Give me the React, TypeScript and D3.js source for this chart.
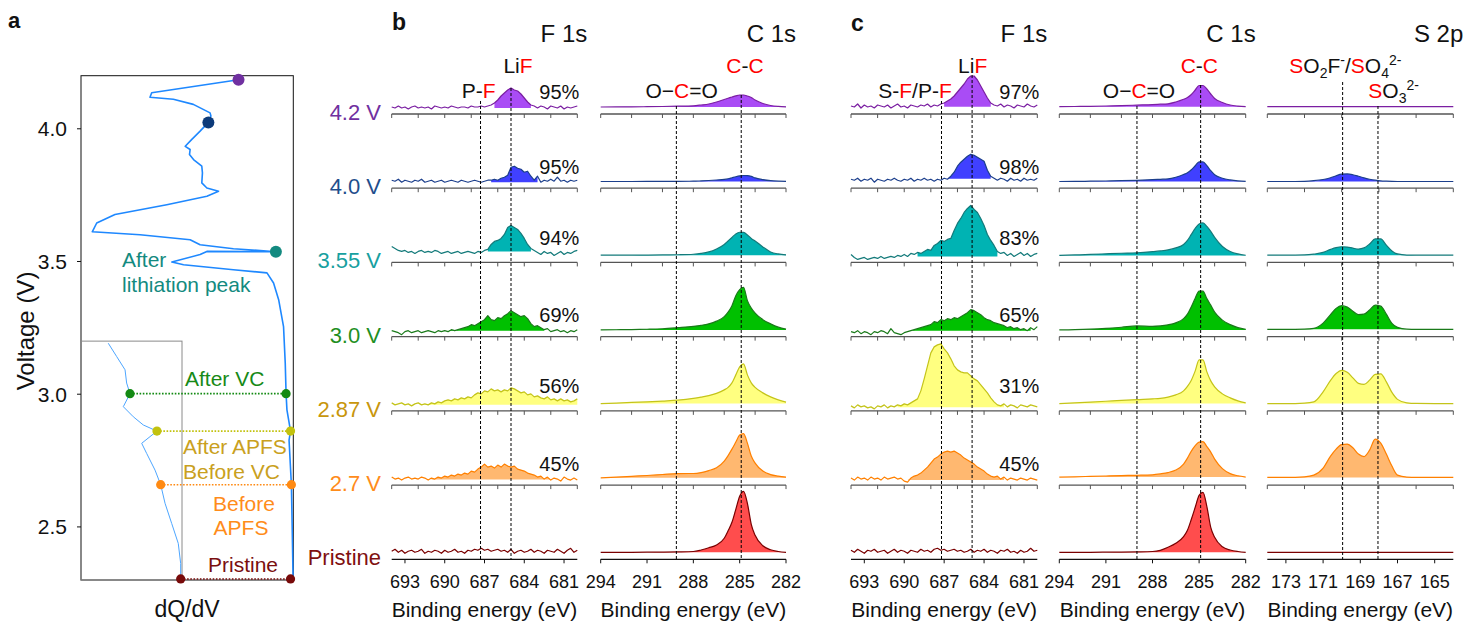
import React from 'react';
import * as d3 from 'd3';

const FONT = "Arial, 'Liberation Sans', Helvetica, sans-serif";
const W = 1467;
const H = 624;

// ---------------- Panel a data ----------------
const VOLT_TICKS = [2.5, 3.0, 3.5, 4.0];
// [voltage, dQ/dV (a.u.)]
const DQDV_MAIN: [number, number][] = [
  [4.185, 0.742], [4.136, 0.333], [4.119, 0.325], [4.111, 0.435], [4.092, 0.529],
  [4.060, 0.608], [4.048, 0.612], [4.024, 0.600], [3.991, 0.561], [3.960, 0.522],
  [3.934, 0.491], [3.922, 0.514], [3.903, 0.511], [3.884, 0.530], [3.859, 0.569],
  [3.834, 0.572], [3.796, 0.569], [3.777, 0.593], [3.765, 0.648], [3.746, 0.593],
  [3.714, 0.404], [3.677, 0.160], [3.645, 0.074], [3.612, 0.053], [3.601, 0.278],
  [3.582, 0.514], [3.563, 0.561], [3.548, 0.718], [3.537, 0.918], [3.538, 0.593],
  [3.526, 0.561], [3.498, 0.428], [3.488, 0.483], [3.469, 0.718], [3.457, 0.876],
  [3.419, 0.907], [3.356, 0.931], [3.255, 0.954], [3.118, 0.962], [3.002, 0.966],
  [2.941, 0.970], [2.861, 0.987], [2.827, 0.980], [2.659, 0.991], [2.488, 0.995],
  [2.304, 0.999],
];
const DQDV_INSET: [number, number][] = [
  [3.192, 0.270], [3.142, 0.353], [3.092, 0.436], [3.042, 0.452], [3.002, 0.485],
  [2.953, 0.419], [2.915, 0.518], [2.884, 0.617], [2.861, 0.752], [2.815, 0.601],
  [2.777, 0.650], [2.714, 0.733], [2.659, 0.789], [2.589, 0.832], [2.513, 0.898],
  [2.438, 0.963], [2.362, 0.987], [2.304, 0.987],
];
const MARK_V = [4.185, 4.024, 3.537, 3.002, 2.861, 2.659, 2.304];
const MARK_MAIN = [0.742, 0.600, 0.918, 0.966, 0.987, 0.991, 0.987];
const MARK_INSET: (number | null)[] = [null, null, null, 0.485, 0.752, 0.789, 0.987];
const MARK_COLORS = ['#7030a0', '#0d3b7a', '#138a80', '#138a13', '#c2c20e', '#ff8a12', '#780a0a'];

// ---------------- XPS data ----------------
const STATES = ['4.2 V', '4.0 V', '3.55 V', '3.0 V', '2.87 V', '2.7 V', 'Pristine'];
const STATE_COLORS = ['#7030a0', '#1f4e8c', '#17a0a0', '#1f8f1f', '#c8960c', '#ff8c1a', '#7f1010'];
const LINE_COLORS = ['#7b1fa2', '#1c3f8c', '#137a7a', '#1a7a1a', '#c4c41a', '#ff8000', '#7a0000'];
const FILL_COLORS = ['#a94cf5', '#4040ff', '#00b3b3', '#00c000', '#ffff80', '#ffb870', '#ff4d4d'];

const PCT_B = ['95%', '95%', '94%', '69%', '56%', '45%'];
const PCT_C = ['97%', '98%', '83%', '65%', '31%', '45%'];

const F1S_E = d3.range(0, 57).map((i) => 694 - i * 0.25);
const C1S_E = [294, 293, 292, 291, 290, 289, 288, 287.5, 287, 286.5, 286, 285.75, 285.5, 285.25, 285, 284.75, 284.5, 284.25, 284, 283.5, 283, 282.5, 282];
const S2P_E = [174, 173, 172, 171.5, 171, 170.6, 170.3, 170, 169.7, 169.4, 169.1, 168.8, 168.5, 168.2, 167.9, 167.6, 167.3, 167, 166.5, 166, 165, 164];

const F1S_TICKS_MINOR = [694, 692, 690, 688, 686, 684, 682, 680];
const F1S_TICKS_MAJOR = [693, 690, 687, 684, 681];
const C1S_TICKS_MINOR = [294, 292, 290, 288, 286, 284, 282];
const C1S_TICKS_MAJOR = [294, 291, 288, 285, 282];
const S2P_TICKS_MINOR = [174, 172, 170, 168, 166, 164];
const S2P_TICKS_MAJOR = [173, 171, 169, 167, 165];

const B_F1S = [
  [7,6,8,6,7,5,7,8,6,7,6,7,5,8,7,6,7,6,8,7,6,7,7,6,8,7,7,8,7,8,9,11,14,18,21,24,26,24,23,20,16,12,9,8,6,8,7,5,8,7,6,8,5,7,6,7,8],
  [8,7,9,6,8,7,6,8,7,9,6,7,8,6,7,8,6,7,8,7,6,8,7,6,7,8,7,6,7,8,8,9,8,10,11,13,21,22,20,19,16,17,12,8,12,6,8,7,9,7,11,7,8,6,8,7,8],
  [16,14,12,11,12,10,11,9,11,12,10,11,10,12,11,9,10,11,9,10,11,9,10,11,10,9,11,10,12,13,18,21,22,24,28,35,37,35,33,29,24,18,14,12,10,8,11,9,10,7,9,11,8,10,9,11,12],
  [6,5,4,2,5,6,4,5,6,4,5,6,5,4,6,5,6,5,7,6,7,8,9,10,12,11,13,15,17,21,17,16,19,18,21,23,26,24,22,20,21,18,13,10,11,9,7,8,5,6,7,5,6,4,6,5,7],
  [8,6,7,8,6,7,5,7,8,6,7,6,8,7,9,8,10,11,10,12,11,13,12,14,13,16,18,17,20,19,22,20,21,19,21,20,23,22,20,18,19,16,17,14,15,13,12,14,11,12,10,12,10,11,9,10,12],
  [8,6,7,5,7,8,6,7,6,8,7,5,7,6,8,7,9,8,10,9,11,10,12,11,14,13,16,18,21,18,19,17,20,18,21,19,18,19,16,15,14,12,11,10,8,9,6,8,5,7,6,4,8,6,5,7,5],
  [8,10,7,9,6,8,9,7,8,10,6,8,7,9,8,6,9,7,8,10,7,8,6,9,8,10,9,11,9,10,8,9,10,8,9,7,10,6,8,9,7,8,10,7,9,8,6,9,8,7,10,8,6,9,11,7,9],
];
const C_F1S = [
  [8,7,10,6,9,7,8,6,9,8,7,9,6,8,10,7,8,6,9,8,7,9,8,10,7,9,8,10,11,13,15,18,22,26,30,35,38,38,34,28,22,16,11,9,8,10,7,9,8,6,9,8,7,10,8,7,9],
  [9,8,10,7,9,8,10,6,9,8,7,9,8,10,8,7,9,8,10,7,9,8,10,8,9,7,9,8,10,9,12,16,22,26,29,32,34,33,31,29,27,18,12,10,8,10,9,7,10,8,9,7,10,8,9,8,10],
  [8,5,3,4,5,3,4,5,4,6,4,5,6,5,7,6,8,6,9,8,10,9,11,13,12,17,19,22,21,23,24,32,39,44,50,54,57,53,50,44,37,28,22,17,11,9,10,7,9,6,8,10,7,9,6,8,9],
  [5,4,6,3,5,4,2,5,4,6,5,3,8,4,3,2,4,5,6,7,8,9,10,11,12,15,14,17,16,18,17,19,18,20,22,24,27,26,24,22,19,17,16,14,13,12,11,9,10,8,9,7,8,6,9,7,10],
  [5,3,6,4,5,3,4,2,5,4,6,3,5,4,6,5,7,6,8,10,12,20,32,45,58,64,66,67,62,58,52,45,41,39,38,38,35,32,30,26,22,18,13,9,6,5,7,4,6,5,3,6,5,4,6,5,4],
  [7,5,8,6,7,5,8,6,7,5,8,6,7,8,6,7,4,3,7,9,10,12,15,18,22,26,28,31,33,34,33,34,32,30,27,25,23,21,18,16,14,11,9,8,9,6,8,5,7,6,5,7,6,5,7,6,5],
  [9,7,10,8,6,9,8,10,7,8,9,6,8,10,7,9,8,6,9,8,7,10,8,9,7,10,11,9,10,8,9,10,8,9,7,8,10,7,9,8,10,7,9,8,6,9,8,10,7,8,6,9,7,8,11,8,9],
];
// peak window [from eV, to eV, background level] for the F 1s fills
const B_F1S_FILL: ([number, number, number] | null)[] = [
  [686.3, 683.3, 6], [686.5, 683.0, 6], [686.8, 683.3, 11], [690, 682.5, 6],
  [691.5, 680, 6], [691, 682, 5.5], null,
];
const C_F1S_FILL: ([number, number, number] | null)[] = [
  [687.2, 683.3, 7.3], [686.8, 683.3, 9.5], [689, 682.8, 6], [690, 680.5, 6],
  [690.5, 682.5, 3.5], [690, 682.5, 5], null,
];

const B_C1S = [
  [7,7.1,7.2,7.3,7.5,7.8,8.2,9,10,12,14.5,15.8,17,18.2,19,19,18,16.5,14,10.5,8.5,7.6,7.2],
  [6.7,6.7,6.7,6.8,6.8,6.9,7,7.3,7.7,8.2,8.8,9.5,10.5,11.5,12.3,12.7,12.6,11.8,10.3,8.6,7.5,7,6.8],
  [7.3,7.3,7.3,7.4,7.5,7.7,8.2,9,10.5,13.5,18,21.5,25,28.5,30.2,30,27.5,24,21.5,15.5,10.5,8.5,7.6],
  [6.7,6.9,7.1,7.4,7.9,9,10.3,11.3,12.8,15.5,20,24.5,31,41,47,49.3,36,28.5,23.5,17,12.8,9.5,7.5],
  [7.3,7.8,8.4,9,9.8,10.7,12.5,13.8,15.3,17.5,21,23.5,28,36,44,47,36,28,23.5,18,14,11,8.8],
  [7.3,8,8.8,9.6,10.6,11.5,11.6,12.5,14.5,17.3,24,29.5,36,43,50,51.5,42,29,22,14,10.5,9,8],
  [7,7,7,7.1,7.2,7.4,7.8,9.3,11.5,14.3,21,28.5,37,50,63,68,56,35,24,13.5,9.5,7.8,7],
];
const C_C1S = [
  [7.3,7.5,7.7,8,8.4,8.9,9.4,9.8,10.2,12,14.7,16.5,19.5,24,28.5,28.5,25,20,15.5,11.5,9,7.9,7.3],
  [6.7,6.8,7,7.2,7.5,7.9,8.5,8.9,9.3,11,13.7,15.5,18.5,22.5,26.3,26.3,22.5,17.5,13.5,10,8.3,7.3,6.8],
  [7,7.5,8,8.6,9.2,9.7,10.8,11.5,12.5,14.5,18,22,28,34,38.5,39.5,36,31,25,16,11,8.5,7.2],
  [6.7,7,7.5,8.3,9.4,10.7,10.2,10.7,11.8,13.8,18,22.5,30,38.5,45.5,45.5,38,31.5,24.5,16.5,12,9,7.3],
  [7.3,8,8.8,9.6,10.5,11.3,12,12.5,13.8,16,20,24.5,30.7,40,51,51,39,30,24,17,13,10,8],
  [8,8.3,8.7,9.1,9.5,9.8,10.3,11.2,12.5,15,21,27,34,39.5,43,43.5,38.5,33,26,16.5,11.5,9.3,8],
  [7,7,7,7.1,7.2,7.4,7.8,9,12,16,22.7,29,40,52,64,67,52.7,32,22,12.5,9.3,7.8,7],
];
const C_S2P = [
  [7.3,7.3,7.3,7.3,7.3,7.3,7.3,7.3,7.3,7.3,7.3,7.3,7.3,7.3,7.3,7.3,7.3,7.3,7.3,7.3,7.3,7.3],
  [6.7,6.7,6.9,7.5,8.7,10.5,12.5,14,14.3,13.5,12,10.3,9,8,7.3,7,6.8,6.7,6.7,6.7,6.7,6.7],
  [7.3,7.3,7.5,8.3,10,13,14.8,15.7,15.4,14.3,13.4,14.5,18.5,23.5,23.5,17.3,11.5,8.5,7.4,7.3,7.3,7.3],
  [7.3,7.3,7.6,8.3,13.5,22,28.3,31,29.5,25.5,22,22.5,26.7,31.5,30.5,22.5,13.3,9.3,7.5,7.3,7.3,7.3],
  [7.3,7.3,7.8,9,19,30.5,37.3,40.5,38.5,33,27.5,26.5,30.7,36.5,37,29,18.5,11.5,8,7.4,7.3,7.3],
  [7.7,7.7,8.3,10,17,29,36,40.5,41,37.3,31,28.5,35,46,42,31,19,10,8,7.7,7.7,7.7],
  [7,7,7,7,7,7,7,7,7,7,7,7,7,7,7,7,7,7,7,7,7,7],
];

// ---------------- layout ----------------
const rowY = d3.scaleLinear().domain([0, 6]).range([114, 559.3]);
const yI = d3.scaleLinear().domain([0, 70]).range([0, 70]);
const RED = '#ff0000';

type Panel = {
  key: string;
  x0: number;
  x1: number;
  domain: [number, number];
  E: number[];
  rows: number[][];
  noisy: boolean;
  fills?: ([number, number, number] | null)[];
  minor: number[];
  major: number[];
  dashed: [number, number][];
  title: string;
  pct?: string[];
};

const PANELS: Panel[] = [
  { key: 'bF', x0: 391.7, x1: 577.3, domain: [694, 680], E: F1S_E, rows: B_F1S, noisy: true, fills: B_F1S_FILL,
    minor: F1S_TICKS_MINOR, major: F1S_TICKS_MAJOR, dashed: [[687.3, 101], [685.0, 88]], title: 'F 1s', pct: PCT_B },
  { key: 'bC', x0: 600.7, x1: 786, domain: [294, 282], E: C1S_E, rows: B_C1S, noisy: false,
    minor: C1S_TICKS_MINOR, major: C1S_TICKS_MAJOR, dashed: [[289.1, 106], [284.9, 95]], title: 'C 1s' },
  { key: 'cF', x0: 851, x1: 1037.3, domain: [694, 680], E: F1S_E, rows: C_F1S, noisy: true, fills: C_F1S_FILL,
    minor: F1S_TICKS_MINOR, major: F1S_TICKS_MAJOR, dashed: [[687.2, 101], [684.9, 75]], title: 'F 1s', pct: PCT_C },
  { key: 'cC', x0: 1059.3, x1: 1245.7, domain: [294, 282], E: C1S_E, rows: C_C1S, noisy: false,
    minor: C1S_TICKS_MINOR, major: C1S_TICKS_MAJOR, dashed: [[289.0, 106], [284.9, 85]], title: 'C 1s' },
  { key: 'cS', x0: 1267.3, x1: 1453.3, domain: [174, 164], E: S2P_E, rows: C_S2P, noisy: false,
    minor: S2P_TICKS_MINOR, major: S2P_TICKS_MAJOR, dashed: [[169.95, 82], [168.05, 106]], title: 'S 2p' },
];

function XpsPanel({ p }: { p: Panel }) {
  const x = d3.scaleLinear().domain(p.domain).range([p.x0, p.x1]);
  const nRows = p.rows.length;
  return (
    <g>
      {p.rows.map((vals, r) => {
        const base = rowY(r);
        const pts = vals.map((v, i) => ({ e: p.E[i], v }));
        const line = d3
          .line<{ e: number; v: number }>()
          .x((d) => x(d.e))
          .y((d) => base - yI(d.v))
          .curve(p.noisy ? d3.curveLinear : d3.curveMonotoneX);
        let areaPath: string | null = null;
        if (p.noisy) {
          const f = p.fills ? p.fills[r] : null;
          if (f) {
            const [from, to, bg] = f;
            const sub = pts.filter((d) => d.e <= from && d.e >= to);
            areaPath = d3
              .area<{ e: number; v: number }>()
              .x((d) => x(d.e))
              .y0(base - yI(bg))
              .y1((d) => base - yI(Math.max(d.v, bg)))
              .curve(d3.curveLinear)(sub);
          }
        } else {
          const bg = d3.min(vals) as number;
          areaPath = d3
            .area<{ e: number; v: number }>()
            .x((d) => x(d.e))
            .y0(base - yI(bg))
            .y1((d) => base - yI(d.v))
            .curve(d3.curveMonotoneX)(pts);
        }
        const isLast = r === nRows - 1;
        const ticks = isLast ? p.major : p.minor;
        const axisColor = isLast ? '#111' : '#555';
        return (
          <g key={r}>
            {areaPath && <path d={areaPath} fill={FILL_COLORS[r]} stroke="none" />}
            <path d={line(pts) || ''} fill="none" stroke={LINE_COLORS[r]} strokeWidth={1.2} strokeLinejoin="round" />
            <line x1={p.x0} x2={p.x1} y1={base} y2={base} stroke={axisColor} strokeWidth={1.3} />
            {ticks.map((t) => (
              <line key={t} x1={x(t)} x2={x(t)} y1={base} y2={base + 4} stroke={axisColor} strokeWidth={1} />
            ))}
          </g>
        );
      })}
      {p.dashed.map(([e, top], i) => (
        <line key={'d' + i} x1={x(e)} x2={x(e)} y1={top} y2={rowY(nRows - 1)} stroke="#000" strokeWidth={1} strokeDasharray="3,2" />
      ))}
      {p.major.map((t) => (
        <text key={'t' + t} x={x(t)} y={588} textAnchor="middle" fontSize={18} fill="#111">{t}</text>
      ))}
      <text x={(p.x0 + p.x1) / 2} y={617} textAnchor="middle" fontSize={21} fill="#111">Binding energy (eV)</text>
      <text x={p.x1 + 10} y={42} textAnchor="end" fontSize={24} fill="#111">{p.title}</text>
      {p.pct &&
        p.pct.map((s, r) => (
          <text key={'p' + r} x={p.x1 + 2} y={rowY(r) - [15, 14, 17, 15, 18, 14][r]} textAnchor="end" fontSize={20} fill="#111">{s}</text>
        ))}
    </g>
  );
}

function PanelA() {
  const yV = d3.scaleLinear().domain([2.3, 4.2]).range([580, 75.7]);
  const xM = d3.scaleLinear().domain([0, 1]).range([81, 293.3]);
  const xIn = d3.scaleLinear().domain([0, 1]).range([81, 182]);
  const mainLine = d3.line<[number, number]>().x((d) => xM(d[1])).y((d) => yV(d[0]));
  const insetLine = d3.line<[number, number]>().x((d) => xIn(d[1])).y((d) => yV(d[0]));
  return (
    <g>
      <rect x={81} y={yV(4.2)} width={212.3} height={yV(2.3) - yV(4.2)} fill="none" stroke="#111" strokeWidth={1} />
      <rect x={81} y={yV(3.2)} width={101} height={yV(2.3) - yV(3.2)} fill="none" stroke="#8a8a8a" strokeWidth={1} />
      {VOLT_TICKS.map((v) => (
        <g key={v}>
          <line x1={77} x2={81} y1={yV(v)} y2={yV(v)} stroke="#111" />
          <text x={67} y={yV(v) + 7.5} textAnchor="end" fontSize={21} fill="#111">{v.toFixed(1)}</text>
        </g>
      ))}
      <path d={insetLine(DQDV_INSET) || ''} fill="none" stroke="#4da6ff" strokeWidth={1} />
      <path d={mainLine(DQDV_MAIN) || ''} fill="none" stroke="#1e88ff" strokeWidth={1.6} strokeLinejoin="round" />
      {MARK_V.map((v, i) => {
        const ins = MARK_INSET[i];
        return ins === null ? null : (
          <line key={'dl' + i} x1={xIn(ins)} x2={xM(MARK_MAIN[i])} y1={yV(v)} y2={yV(v)} stroke={MARK_COLORS[i]} strokeWidth={1.6} strokeDasharray="1.6,1.6" />
        );
      })}
      {MARK_V.map((v, i) => {
        const ins = MARK_INSET[i];
        const r = i < 3 ? 6 : 4.6;
        return (
          <g key={'m' + i}>
            <circle cx={xM(MARK_MAIN[i])} cy={yV(v)} r={r} fill={MARK_COLORS[i]} />
            {ins !== null && <circle cx={xIn(ins)} cy={yV(v)} r={4.6} fill={MARK_COLORS[i]} />}
          </g>
        );
      })}
      <text fontSize={21} fill="#138a80">
        <tspan x={122} y={267}>After</tspan>
        <tspan x={122} y={292}>lithiation peak</tspan>
      </text>
      <text x={185} y={386} fontSize={21} fill="#178a17">After VC</text>
      <text fontSize={21} fill="#c9a020">
        <tspan x={183} y={454}>After APFS</tspan>
        <tspan x={183} y={479}>Before VC</tspan>
      </text>
      <text fontSize={21} fill="#ff8c1a" textAnchor="middle">
        <tspan x={244} y={511}>Before</tspan>
        <tspan x={241} y={535}>APFS</tspan>
      </text>
      <text x={243} y={572} fontSize={21} fill="#7a0f0f" textAnchor="middle">Pristine</text>
      <text x={187} y={617} fontSize={23} fill="#111" textAnchor="middle">dQ/dV</text>
      <text transform="translate(34,331) rotate(-90)" fontSize={24} fill="#111" textAnchor="middle">Voltage (V)</text>
      <text x={8} y={28} fontSize={22} fontWeight="bold" fill="#111">a</text>
    </g>
  );
}

export default function App() {
  return (
    <svg width={W} height={H} viewBox={`0 0 ${W} ${H}`} style={{ position: 'absolute', left: 0, top: 0, background: '#fff' }} fontFamily={FONT}>
      <rect x={0} y={0} width={W} height={H} fill="#fff" />
      <PanelA />
      {PANELS.map((p) => (
        <XpsPanel key={p.key} p={p} />
      ))}
      {STATES.map((s, r) => (
        <text key={s} x={381} y={rowY(r) + 6} textAnchor="end" fontSize={22} fill={STATE_COLORS[r]}>{s}</text>
      ))}
      <text x={392} y={30} fontSize={23} fontWeight="bold" fill="#111">b</text>
      <text x={851} y={31} fontSize={23} fontWeight="bold" fill="#111">c</text>
      {/* annotations b */}
      <text x={518} y={72.7} textAnchor="middle" fontSize={21} fill="#111">Li<tspan fill={RED}>F</tspan></text>
      <text x={478.7} y={98.3} textAnchor="middle" fontSize={21} fill="#111">P-<tspan fill={RED}>F</tspan></text>
      <text x={745} y={72.7} textAnchor="middle" fontSize={21} fill={RED}>C<tspan fill="#111">-</tspan>C</text>
      <text x={681.7} y={98.3} textAnchor="middle" fontSize={21} fill="#111">O−<tspan fill={RED}>C</tspan>=O</text>
      {/* annotations c */}
      <text x={972.7} y={72.7} textAnchor="middle" fontSize={21} fill="#111">Li<tspan fill={RED}>F</tspan></text>
      <text x={915} y={98.3} textAnchor="middle" fontSize={21} fill="#111">S-<tspan fill={RED}>F</tspan>/P-<tspan fill={RED}>F</tspan></text>
      <text x={1199.3} y={72.7} textAnchor="middle" fontSize={21} fill={RED}>C<tspan fill="#111">-</tspan>C</text>
      <text x={1139} y={98.3} textAnchor="middle" fontSize={21} fill="#111">O−<tspan fill={RED}>C</tspan>=O</text>
      <text x={1289.3} y={72.7} fontSize={21} fill="#111">
        <tspan fill={RED}>S</tspan>O<tspan dy={5} fontSize={14}>2</tspan><tspan dy={-5}>F</tspan><tspan dy={-8} fontSize={14}>-</tspan><tspan dy={8}>/</tspan><tspan fill={RED}>S</tspan>O<tspan dy={5} fontSize={14}>4</tspan><tspan dy={-13} fontSize={14}>2-</tspan>
      </text>
      <text x={1368.3} y={98.3} fontSize={21} fill="#111">
        <tspan fill={RED}>S</tspan>O<tspan dy={5} fontSize={14}>3</tspan><tspan dy={-13} fontSize={14}>2-</tspan>
      </text>
    </svg>
  );
}
